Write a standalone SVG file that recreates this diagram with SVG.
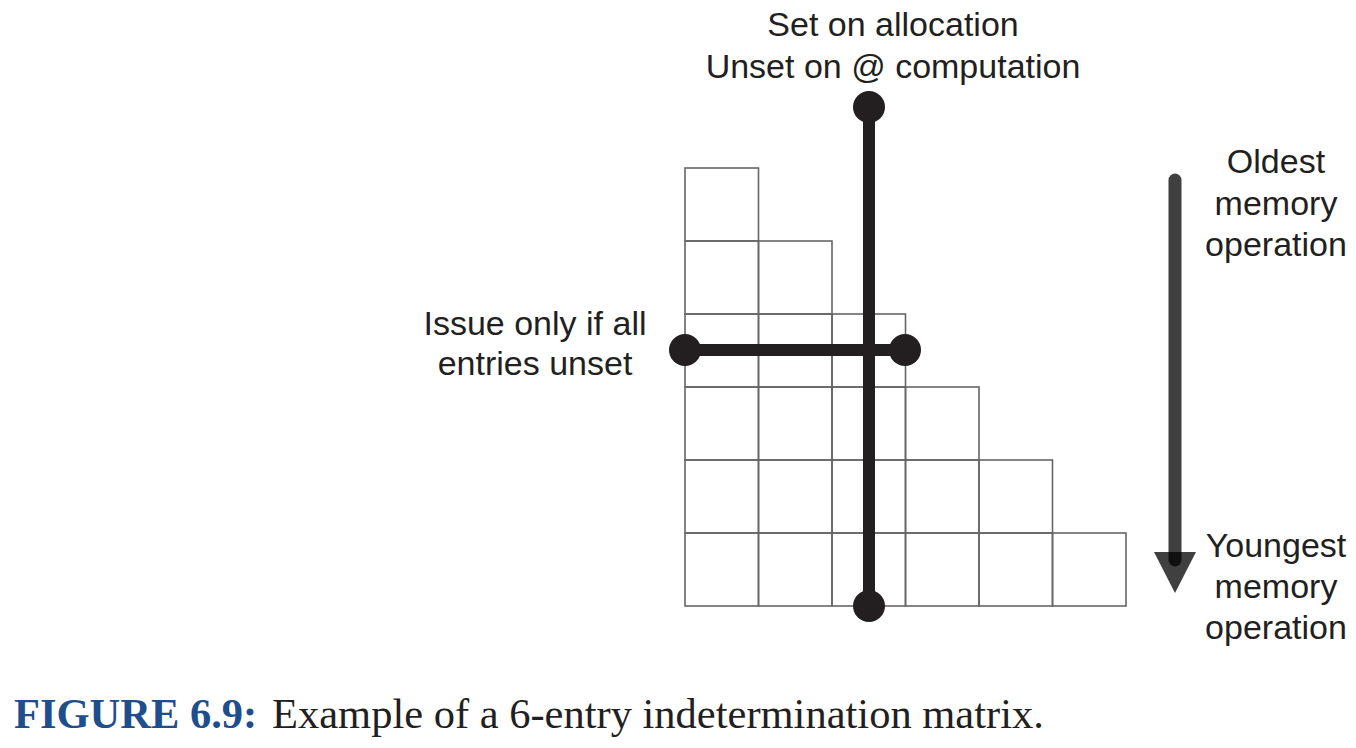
<svg xmlns="http://www.w3.org/2000/svg" width="1356" height="748" viewBox="0 0 1356 748">
<style>
.lbl{font-family:"Liberation Sans",Arial,sans-serif;font-size:34px;fill:#231f20;text-anchor:middle}
.cell{fill:none;stroke:#666;stroke-width:1.6}
.bar{stroke:#231f20;stroke-width:12;fill:none}
.dot{fill:#231f20}
.cap{font-family:"Liberation Serif","Times New Roman",serif;font-size:42.5px}
</style>
<rect width="1356" height="748" fill="#fff"/>
<g id="matrix">
<rect class="cell" x="685" y="168" width="73.5" height="73"/>
<rect class="cell" x="685" y="241" width="73.5" height="73"/>
<rect class="cell" x="758.5" y="241" width="73.5" height="73"/>
<rect class="cell" x="685" y="314" width="73.5" height="73"/>
<rect class="cell" x="758.5" y="314" width="73.5" height="73"/>
<rect class="cell" x="832" y="314" width="73.5" height="73"/>
<rect class="cell" x="685" y="387" width="73.5" height="73"/>
<rect class="cell" x="758.5" y="387" width="73.5" height="73"/>
<rect class="cell" x="832" y="387" width="73.5" height="73"/>
<rect class="cell" x="905.5" y="387" width="73.5" height="73"/>
<rect class="cell" x="685" y="460" width="73.5" height="73"/>
<rect class="cell" x="758.5" y="460" width="73.5" height="73"/>
<rect class="cell" x="832" y="460" width="73.5" height="73"/>
<rect class="cell" x="905.5" y="460" width="73.5" height="73"/>
<rect class="cell" x="979" y="460" width="73.5" height="73"/>
<rect class="cell" x="685" y="533" width="73.5" height="73"/>
<rect class="cell" x="758.5" y="533" width="73.5" height="73"/>
<rect class="cell" x="832" y="533" width="73.5" height="73"/>
<rect class="cell" x="905.5" y="533" width="73.5" height="73"/>
<rect class="cell" x="979" y="533" width="73.5" height="73"/>
<rect class="cell" x="1052.5" y="533" width="73.5" height="73"/>
</g>
<g id="connectors">
<line class="bar" x1="685" y1="350" x2="905" y2="350"/>
<circle class="dot" cx="685" cy="350" r="16"/>
<circle class="dot" cx="905" cy="350" r="16"/>
<line class="bar" x1="869" y1="107" x2="869" y2="606"/>
<circle class="dot" cx="869" cy="107" r="16"/>
<circle class="dot" cx="869" cy="606" r="16"/>
<line x1="1175" y1="180" x2="1175" y2="560" stroke="#000" stroke-opacity="0.75" stroke-width="13" stroke-linecap="round"/>
<polygon points="1154,552 1196,552 1175,593" fill="#000" fill-opacity="0.75"/>
</g>
<g id="label-top">
<text class="lbl" x="893" y="36">Set on allocation</text>
<text class="lbl" x="893" y="78">Unset on @ computation</text>
</g>
<g id="label-issue">
<text class="lbl" x="535" y="335">Issue only if all</text>
<text class="lbl" x="535" y="375">entries unset</text>
</g>
<g id="label-oldest">
<text class="lbl" x="1276" y="173">Oldest</text>
<text class="lbl" x="1276" y="215">memory</text>
<text class="lbl" x="1276" y="256">operation</text>
</g>
<g id="label-youngest">
<text class="lbl" x="1276" y="557">Youngest</text>
<text class="lbl" x="1276" y="598">memory</text>
<text class="lbl" x="1276" y="639">operation</text>
</g>
<g id="caption">
<text class="cap" x="14" y="728"><tspan font-weight="bold" fill="#1f4e8c">FIGURE 6.9:</tspan><tspan fill="#231f20" x="272">Example of a 6-entry indetermination matrix.</tspan></text>
</g>
</svg>
